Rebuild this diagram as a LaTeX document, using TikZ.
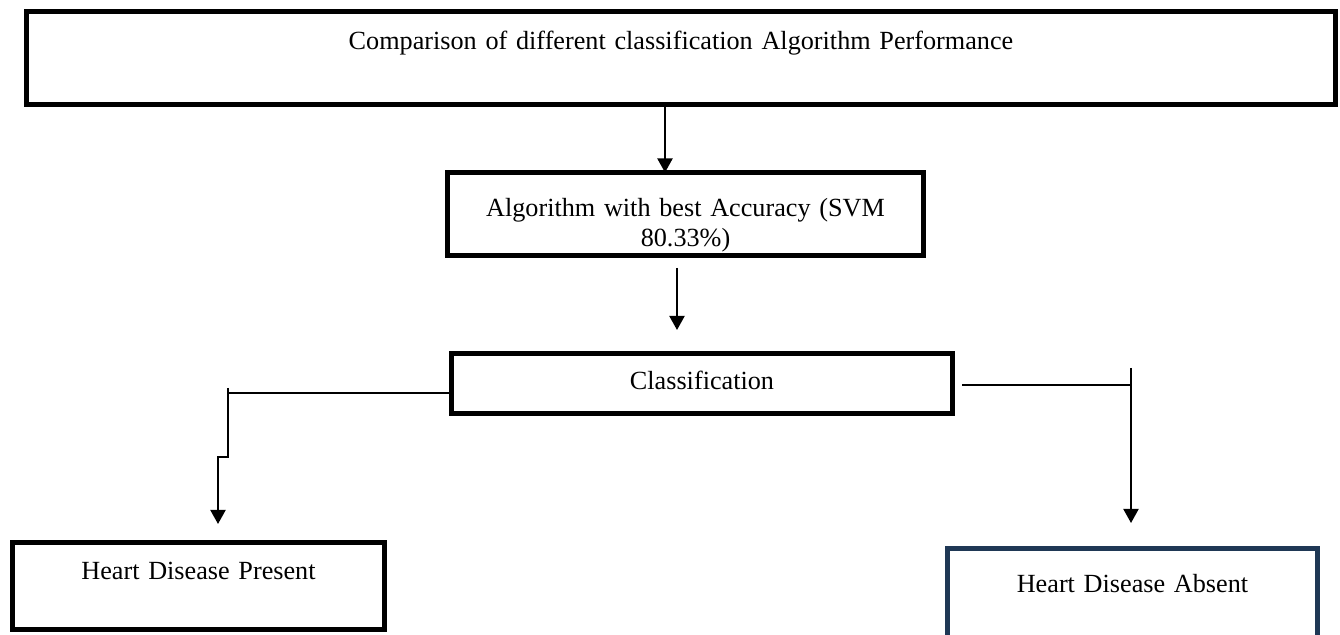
\documentclass[tikz,border=0pt]{standalone}
\usepackage{fontspec}
\setmainfont{Liberation Serif}
\usepackage{tikz}
\usetikzlibrary{arrows.meta}
\definecolor{navy}{RGB}{31,56,85}

\begin{document}
\begin{tikzpicture}[x=0.5pt, y=-0.5pt,
  box/.style={draw, line width=2.5pt, inner sep=0pt, outer sep=0pt, align=center, anchor=north west, font=\fontsize{13.1}{14.6}\selectfont},
  link/.style={line width=0.75pt},
  arrow/.style={line width=1pt, -{Triangle[width=7.5pt,length=7pt]}}]
  \useasboundingbox (0,0) rectangle (1340,635);
  \clip (0,0) rectangle (1340,635);
  \node (top) [box, text width=654.5pt, text height=19.25pt, text depth=27.25pt] at (26.5,11.5)
    {Comparison of different classification Algorithm Performance};
  \node (algo) [box, text width=238pt, text height=22.25pt, text depth=19.25pt] at (447.5,172.5)
    {Algorithm with best Accuracy (SVM\\ 80.33\%)};
  \node (class) [box, text width=250.5pt, text height=18.25pt, text depth=11.75pt] at (451.5,353.5)
    {Classification};
  \node (present) [box, text width=186pt, text height=18.75pt, text depth=25pt] at (12.5,542.5)
    {Heart Disease Present};
  \node (absent) [box, draw=navy, text width=185pt, text height=22.25pt, text depth=30pt] at (947.5,548.5)
    {Heart Disease Absent};
  \coordinate (lturn) at (228,393);
  \coordinate (ljog) at (218,457);
  \coordinate (rturn) at (1131,385);
  \draw[arrow] ([xshift=-8pt]top.south) -- ([xshift=-10.25pt]algo.north);
  \draw[arrow, shorten <=6.25pt, shorten >=11.75pt] ([xshift=-4.25pt]algo.south) -- ([xshift=-12.5pt]class.north);
  \draw[link] ([yshift=-4.75pt]class.west) -- (lturn);
  \draw[arrow, shorten >=9.25pt] ([yshift=2.5pt]lturn) -- (lturn |- ljog) -- (ljog) -- (ljog |- present.north);
  \draw[link] ([xshift=4.75pt, yshift=-0.75pt]class.east) -- (rturn);
  \draw[arrow, shorten >=12.75pt] ([yshift=8.5pt]rturn) -- (rturn |- absent.north);
\end{tikzpicture}
\end{document}
